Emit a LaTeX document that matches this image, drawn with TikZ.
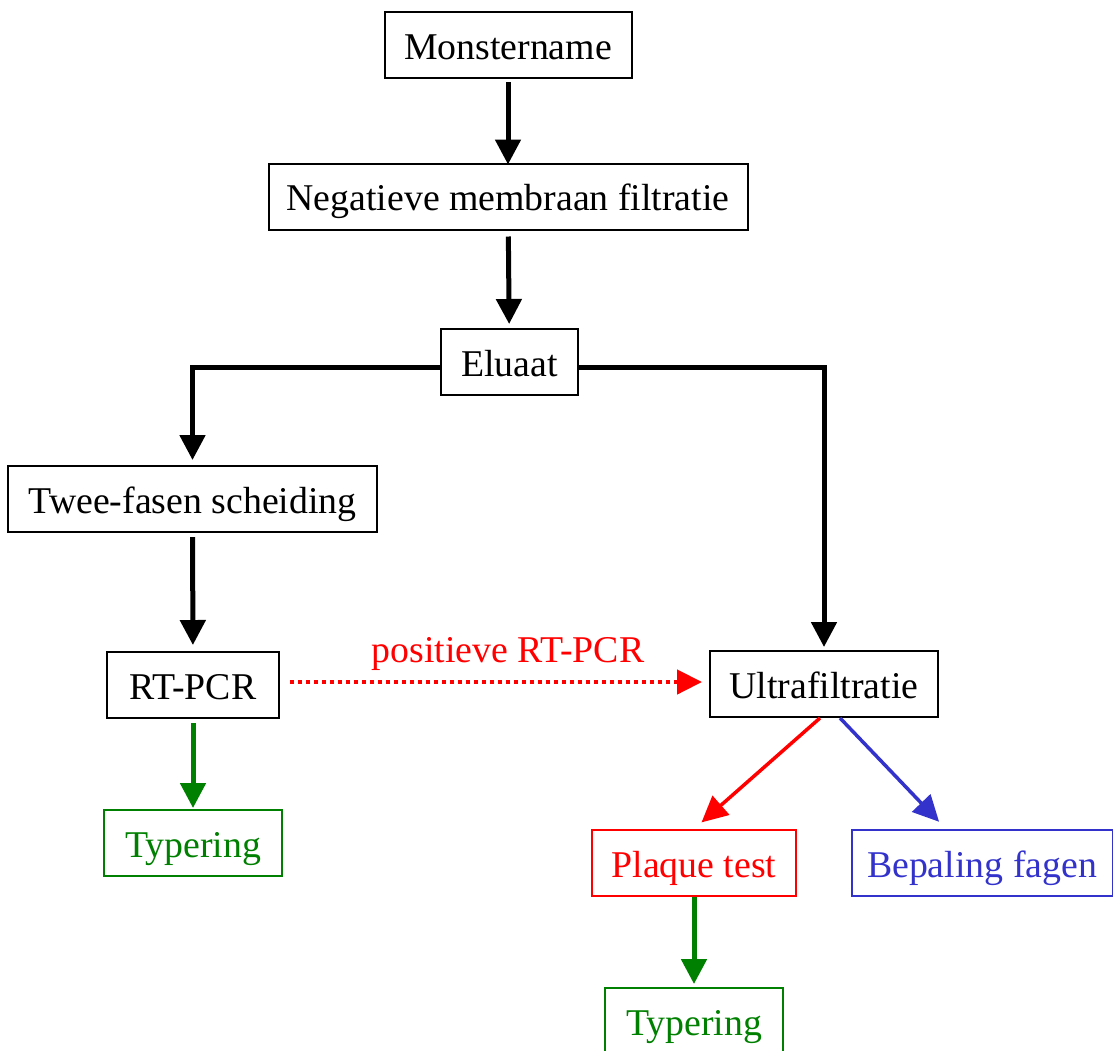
\documentclass[tikz,border=0pt]{standalone}
\usepackage{fontspec}
\setmainfont{Liberation Serif}
\usetikzlibrary{arrows.meta}
\definecolor{myred}{RGB}{255,0,0}
\definecolor{mygreen}{RGB}{0,128,0}
\definecolor{myblue}{RGB}{51,51,204}
\begin{document}
\begin{tikzpicture}[x=1pt,y=-1pt,
  box/.style={draw,line width=2pt,inner sep=0pt,minimum height=66pt,
    font=\fontsize{37.8}{44}\selectfont,text height=30pt,text depth=2pt,anchor=center},
  conn/.style={line width=5pt,-{Triangle[length=25pt,width=25pt]}},
  thin conn/.style={line width=3.5pt,-{Triangle[length=26pt,width=25pt]}}]
\useasboundingbox (0,0) rectangle (1113,1050);
\node[box,minimum width=247pt] (mon) at (508,45) {Monstername};
\node[box,minimum width=479pt] (neg) at (508,196.5) {Negatieve membraan filtratie};
\node[box,minimum width=137pt] (elu) at (509.5,362) {Eluaat};
\node[box,minimum width=369pt] (twee) at (192.5,499) {Twee-fasen scheiding};
\node[box,minimum width=172pt] (rt) at (193,685) {RT-PCR};
\node[box,minimum width=228pt] (ultra) at (824,684) {Ultrafiltratie};
\node[box,draw=mygreen,text=mygreen,minimum width=178pt] (typ1) at (193,843) {Typering};
\node[box,draw=myred,text=myred,minimum width=204pt] (plaque) at (694,863) {Plaque test};
\node[box,draw=myblue,text=myblue,minimum width=261pt] (bep) at (982,863) {Bepaling fagen};
\node[box,draw=mygreen,text=mygreen,minimum width=178pt] (typ2) at (694,1021) {Typering};
\node[text=myred,font=\fontsize{37.8}{44}\selectfont,anchor=base] (lbl) at (508,662) {positieve RT-PCR};

\draw[conn,shorten <=3pt,shorten >=-2pt] (mon) -- (neg);
\draw[conn,shorten <=6pt,shorten >=4pt] (neg) -- (elu);
\draw[conn,shorten >=5pt] ([yshift=-5pt]elu.west) -| (twee.north);
\draw[conn,shorten >=3pt] ([yshift=-5pt]elu.east) -| (ultra.north);
\draw[conn,shorten <=4pt,shorten >=6pt] (twee) -- (rt);
\draw[conn,draw=mygreen,fill=mygreen,shorten <=4pt,shorten >=1pt] (rt) -- (typ1);
\draw[line width=4.5pt,draw=myred,dash pattern=on 4.2pt off 3.8pt,
  -{Triangle[length=25pt,width=24pt,fill=myred,sep=0pt]},shorten <=10pt,shorten >=7pt]
  ([yshift=3pt]rt.east) -- ([yshift=2pt]ultra.west);
\draw[thin conn,draw=myred,fill=myred,shorten >=10pt] ([xshift=-4pt]ultra.south) -- (plaque.north);
\draw[thin conn,draw=myblue,fill=myblue,shorten >=10pt] ([xshift=16pt]ultra.south) -- ([xshift=-36pt]bep.north);
\draw[conn,draw=mygreen,fill=mygreen,shorten >=3pt] (plaque) -- (typ2);
\end{tikzpicture}
\end{document}
